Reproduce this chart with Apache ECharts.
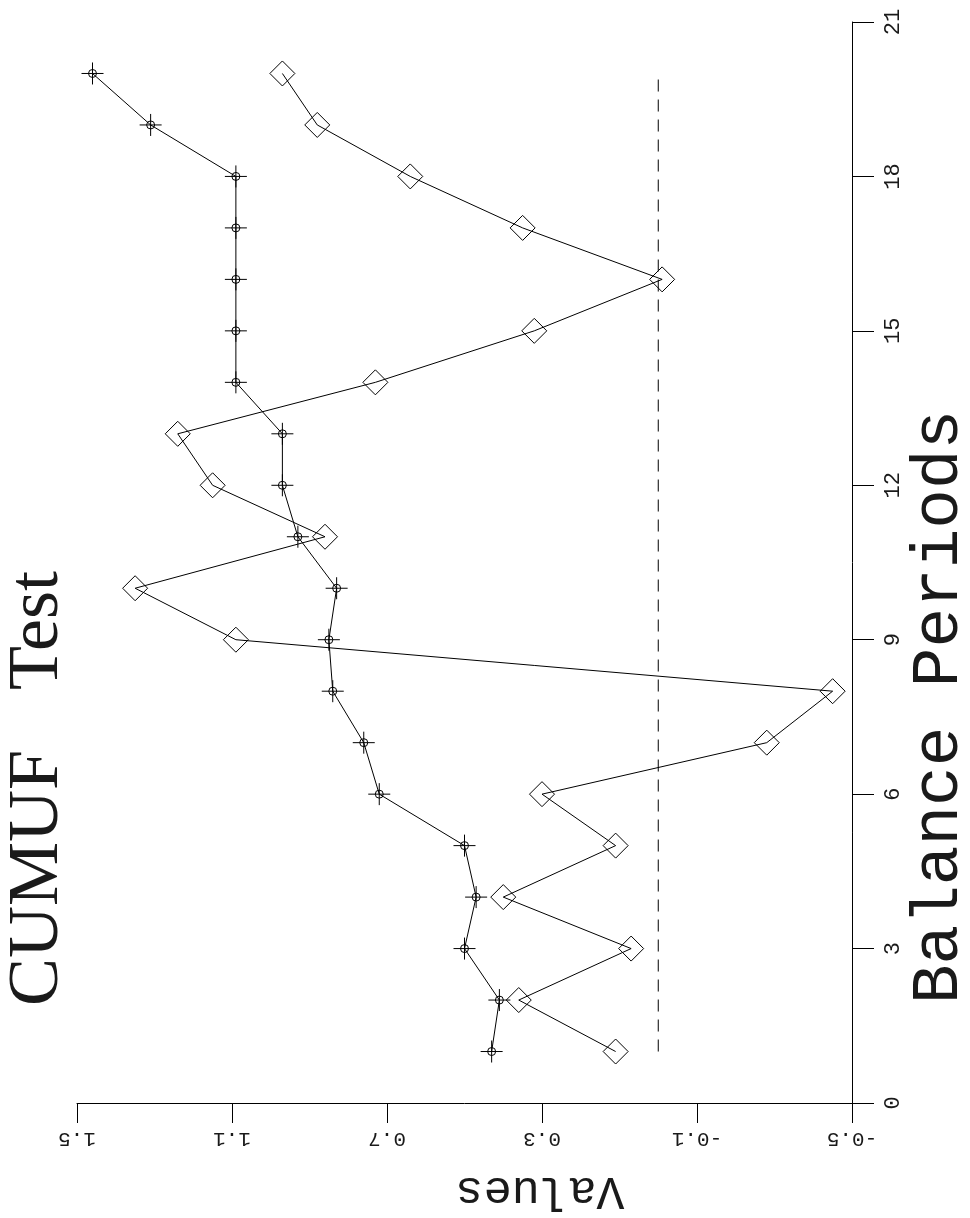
<!DOCTYPE html>
<html>
<head>
<meta charset="utf-8">
<script src="https://cdn.jsdelivr.net/npm/echarts@6/dist/echarts.min.js"></script>
<style>
  html, body { margin: 0; padding: 0; background: #fff; }
  #chart { width: 970px; height: 1218px; }
</style>
</head>
<body>
<div id="chart"></div>
<script>
// balance periods run up the page, values run along the bottom (right to left)
const periods = [1, 2, 3, 4, 5, 6, 7, 8, 9, 10, 11, 12, 13, 14, 15, 16, 17, 18, 19, 20];
const cumulative = [0.43, 0.41, 0.50, 0.47, 0.50, 0.72, 0.76, 0.84, 0.85, 0.83,
                    0.93, 0.97, 0.97, 1.09, 1.09, 1.09, 1.09, 1.09, 1.31, 1.46];
const periodValues = [0.11, 0.36, 0.07, 0.40, 0.11, 0.30, -0.28, -0.45, 1.09, 1.35,
                      0.86, 1.15, 1.24, 0.73, 0.32, -0.01, 0.35, 0.64, 0.88, 0.97];
const refValue = 0;
const refPeriods = [1, 20];
const valueTicks = [-0.5, -0.1, 0.3, 0.7, 1.1, 1.5];

const monoFont = '"Liberation Mono", "DejaVu Sans Mono", monospace';
const serifFont = '"Liberation Serif", "DejaVu Serif", serif';

const crossCircle = 'path://M0,-11L0,11M-11,0L11,0M4,0A4,4,0,1,1,-4,0A4,4,0,1,1,4,0';

const chart = echarts.init(document.getElementById('chart'));

const option = {
    animation: false,
    backgroundColor: '#fff',
    grid: { left: 77, right: 118, top: 22, bottom: 115 },
    xAxis: {
        type: 'value',
        min: -0.5,
        max: 1.5,
        inverse: true,
        position: 'bottom',
        splitLine: { show: false },
        axisLine: { onZero: false, lineStyle: { color: '#000', width: 1 } },
        axisTick: { length: 20, customValues: valueTicks, lineStyle: { color: '#000' } },
        axisLabel: {
            customValues: valueTicks,
            rotate: 180,
            margin: 25,
            color: '#1a1a1a',
            fontFamily: monoFont,
            fontSize: 21
        }
    },
    yAxis: {
        type: 'value',
        min: 0,
        max: 21,
        interval: 3,
        position: 'right',
        splitLine: { show: false },
        axisLine: { show: true, onZero: false, lineStyle: { color: '#000', width: 1 } },
        axisTick: { show: true, length: 22, lineStyle: { color: '#000' } },
        axisLabel: {
            rotate: 90,
            margin: 30,
            color: '#1a1a1a',
            fontFamily: monoFont,
            fontSize: 22
        }
    },
    graphic: [
        {
            type: 'text', x: 38, y: 1006, rotation: Math.PI / 2,
            style: { text: 'CUMUF', font: '72px ' + serifFont, fill: '#1a1a1a',
                     textAlign: 'left', textVerticalAlign: 'middle' }
        },
        {
            type: 'text', x: 38, y: 690, rotation: Math.PI / 2,
            style: { text: 'Test', font: '72px ' + serifFont, fill: '#1a1a1a',
                     textAlign: 'left', textVerticalAlign: 'middle' }
        },
        {
            type: 'text', x: 940, y: 1004, rotation: Math.PI / 2,
            style: { text: 'Balance Periods', font: '66px ' + monoFont, fill: '#1a1a1a',
                     textAlign: 'left', textVerticalAlign: 'middle' }
        },
        {
            type: 'text', x: 540, y: 1190, rotation: Math.PI,
            style: { text: 'Values', font: '47px ' + monoFont, fill: '#1a1a1a',
                     textAlign: 'center', textVerticalAlign: 'middle' }
        }
    ],
    series: [
        {
            name: 'Reference',
            type: 'line',
            symbol: 'none',
            lineStyle: { color: '#000', width: 1, type: [12, 8] },
            data: refPeriods.map(p => [refValue, p])
        },
        {
            name: 'Cumulative',
            type: 'line',
            symbol: crossCircle,
            symbolSize: 22,
            lineStyle: { color: '#000', width: 1 },
            itemStyle: { color: 'rgba(0,0,0,0)', borderColor: '#000', borderWidth: 1 },
            data: periods.map((p, i) => [cumulative[i], p])
        },
        {
            name: 'Period',
            type: 'line',
            symbol: 'diamond',
            symbolSize: 25,
            lineStyle: { color: '#000', width: 1 },
            itemStyle: { color: 'rgba(0,0,0,0)', borderColor: '#000', borderWidth: 1 },
            data: periods.map((p, i) => [periodValues[i], p])
        }
    ]
};

chart.setOption(option);
</script>
</body>
</html>
